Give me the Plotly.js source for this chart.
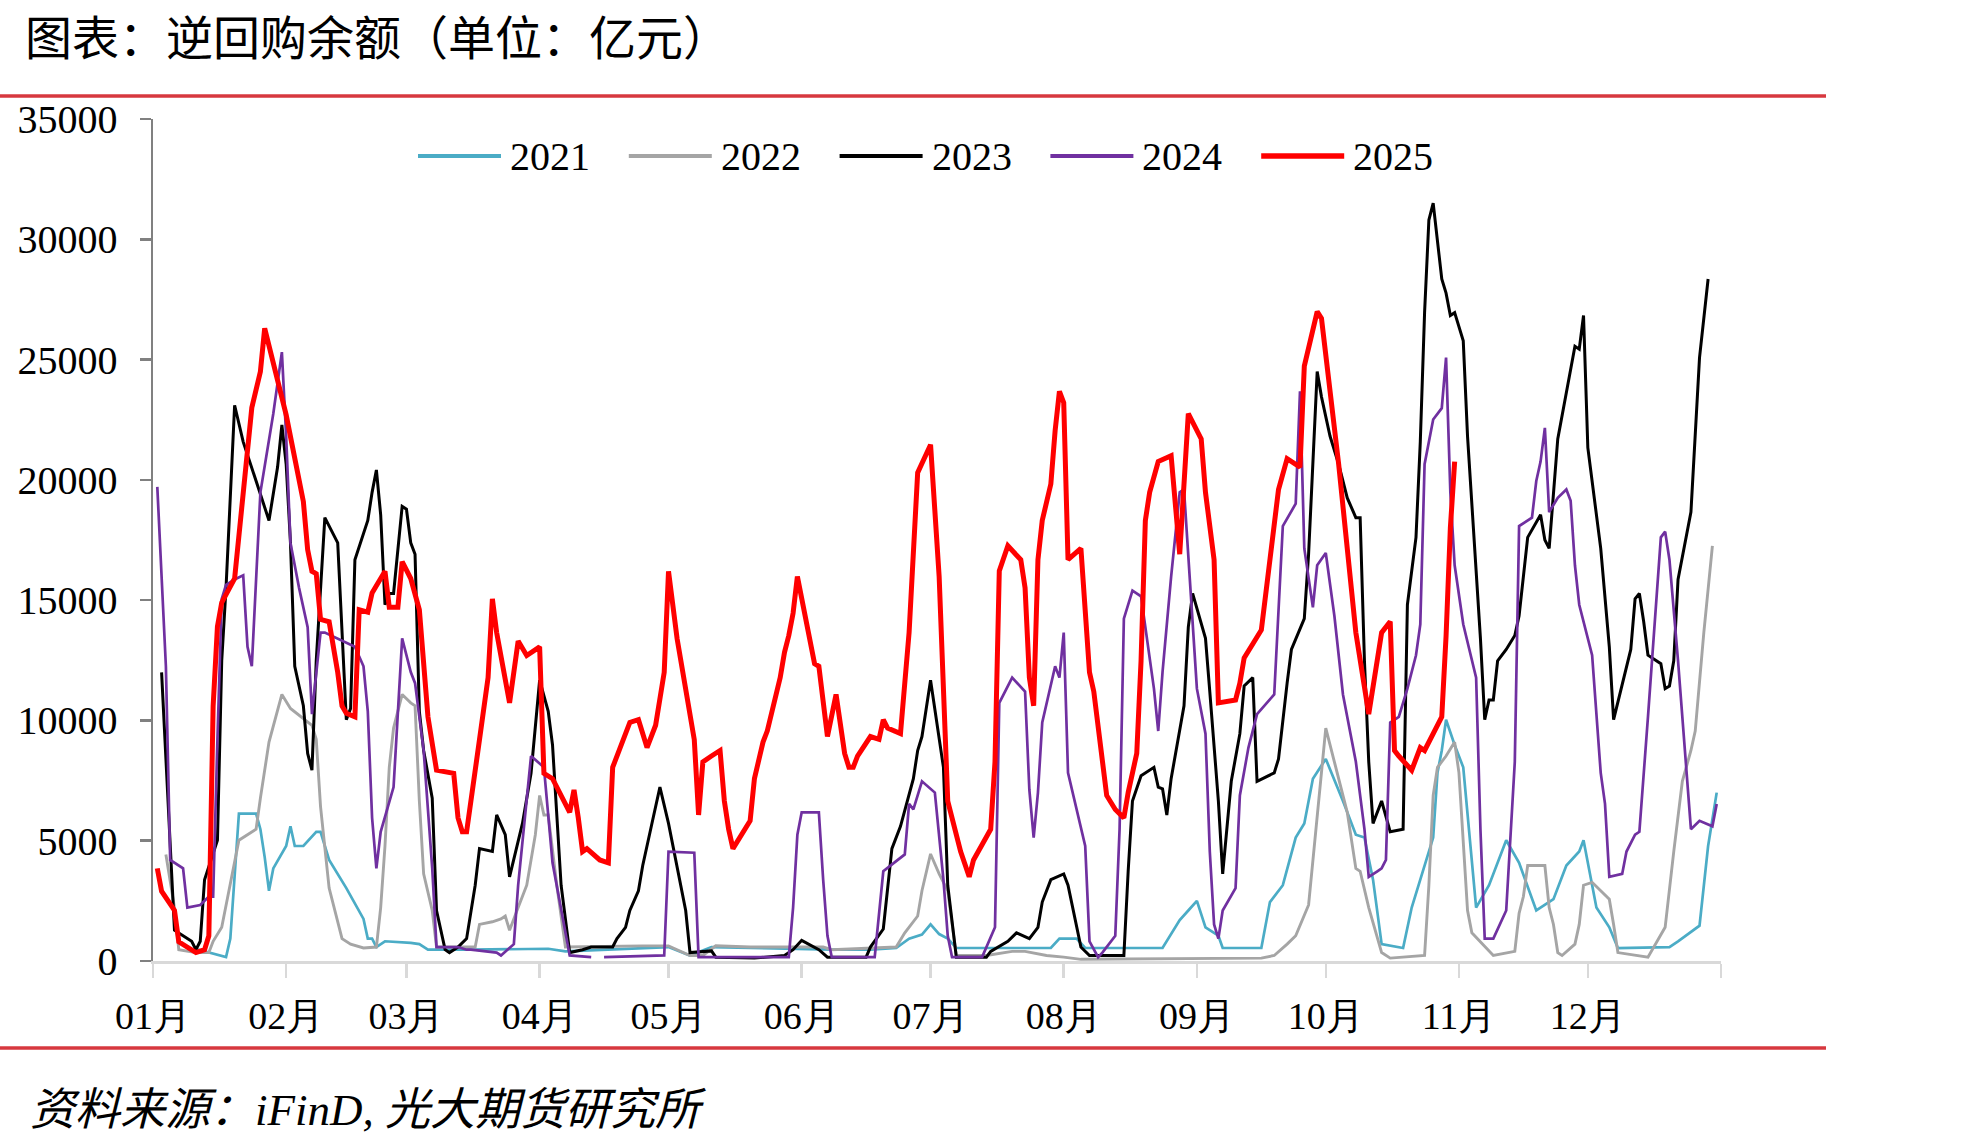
<!DOCTYPE html>
<html>
<head>
<meta charset="utf-8">
<script src="https://cdn.plot.ly/plotly-3.0.1.min.js"></script>
<style>
html,body{margin:0;padding:0;background:#ffffff;}
#chart{width:1985px;height:1146px;}
</style>
</head>
<body>
<div id="chart"></div>
<script>
// ---- Data: [day of year (0 = 1 Jan), balance in 亿元] ----
const s2021 = [[10,500],[14,300],[17,160],[18,930],[20,6130],[24,6130],[25,5480],[26,4320],[27,2920],[28,3850],[31,4780],[32,5600],[33,4780],[35,4780],[38,5370],[39,5370],[41,4200],[45,3030],[49,1750],[50,930],[51,930],[52,580],[54,820],[60,750],[62,700],[64,470],[74,470],[92,510],[96,400],[120,580],[125,230],[130,580],[158,470],[167,470],[173,540],[176,930],[179,1100],[181,1520],[183,1120],[185,930],[187,540],[209,540],[211,930],[215,930],[217,540],[235,540],[239,1700],[241,2100],[243,2500],[245,1400],[248,1050],[249,540],[258,540],[260,2450],[263,3150],[266,5130],[268,5720],[270,7580],[273,8400],[277,6650],[280,5250],[282,5130],[284,3380],[286,700],[291,540],[293,2220],[298,5130],[299,7820],[300,8750],[301,10030],[303,8980],[305,8050],[308,2220],[311,3150],[313,4080],[315,5020],[318,4080],[322,2100],[326,2570],[329,3970],[332,4550],[333,5020],[336,2220],[339,1400],[341,540],[353,580],[355,820],[360,1470],[362,4780],[364,7000]];

const s2022 = [[3,4430],[5,2220],[6,470],[10,350],[13,350],[14,820],[16,1400],[18,3150],[20,5020],[24,5480],[25,6770],[27,9100],[30,11080],[32,10500],[37,9800],[38,9220],[39,6420],[41,3030],[44,930],[46,700],[49,540],[52,580],[53,2220],[54,4780],[55,8050],[56,9680],[58,11080],[60,10730],[61,10610],[62,6650],[63,3620],[65,2100],[66,580],[75,580],[76,1520],[79,1630],[81,1750],[82,1870],[83,1280],[85,2220],[87,3150],[89,5250],[90,6880],[91,6070],[92,6070],[94,3150],[96,580],[114,630],[120,630],[125,230],[128,230],[131,630],[139,580],[156,580],[158,470],[173,580],[175,1170],[178,1870],[179,2920],[181,4450],[183,3620],[185,2920],[186,1520],[187,230],[194,230],[200,400],[203,400],[208,230],[212,160],[216,70],[258,120],[261,230],[264,700],[266,1050],[269,2330],[270,4200],[273,9680],[275,8280],[278,6180],[280,3850],[281,3730],[283,2220],[286,350],[288,120],[296,230],[297,3150],[298,6880],[299,8050],[301,8520],[303,9100],[304,7820],[306,2100],[307,1170],[312,230],[315,350],[317,400],[318,1980],[319,2680],[320,3970],[324,3970],[325,2220],[326,1520],[327,350],[328,230],[331,700],[332,1520],[333,3150],[335,3270],[337,2920],[339,2570],[340,1520],[341,350],[348,160],[352,1400],[354,4550],[356,7470],[358,8750],[359,9560],[361,13650],[363,17260]];

const s2023 = [[2,12000],[5,1280],[7,1050],[9,820],[10,470],[11,820],[12,3380],[14,4430],[15,5020],[16,12480],[17,15510],[19,23100],[21,21580],[24,19950],[27,18310],[29,20530],[30,22280],[31,20650],[32,17380],[33,12250],[35,10610],[36,8630],[37,7930],[38,12480],[40,18430],[43,17380],[45,10030],[46,10500],[47,16680],[50,18310],[51,19480],[52,20410],[53,18550],[54,14810],[55,15280],[56,15280],[58,18900],[59,18780],[60,17380],[61,16910],[62,10380],[63,8750],[65,6770],[66,2100],[68,470],[69,350],[71,580],[73,930],[75,3150],[76,4670],[79,4550],[80,6070],[82,5250],[83,3500],[86,5720],[88,7800],[90,11670],[92,10380],[93,8980],[95,3150],[97,350],[100,470],[102,580],[107,580],[108,930],[110,1400],[111,2100],[113,2920],[114,3970],[116,5600],[118,7230],[120,5720],[121,4780],[124,2100],[125,350],[130,420],[131,160],[140,120],[147,230],[149,470],[151,860],[155,470],[157,160],[166,160],[167,580],[170,1330],[172,4670],[174,5600],[177,7580],[178,8750],[179,9330],[181,11670],[184,8050],[185,3150],[187,160],[194,160],[195,400],[199,820],[201,1170],[204,930],[206,1400],[207,2450],[209,3380],[212,3620],[213,3150],[215,1400],[216,580],[218,230],[226,230],[227,3730],[228,6650],[230,7700],[233,8050],[234,7230],[235,7160],[236,6070],[237,7580],[240,10610],[241,13880],[242,15280],[245,13410],[246,11200],[248,6650],[249,3620],[251,7470],[253,9450],[254,11430],[256,11780],[257,7470],[261,7820],[262,8400],[264,11550],[265,12950],[268,14230],[269,16910],[271,24500],[272,23450],[274,21810],[276,20650],[278,19250],[280,18430],[281,18430],[282,12480],[283,8280],[284,5720],[286,6650],[287,5950],[288,5370],[291,5480],[292,14810],[294,17610],[295,21580],[296,26950],[297,30800],[298,31500],[300,28350],[301,27760],[302,26830],[303,26950],[305,25780],[306,21810],[308,16450],[309,13410],[310,10030],[311,10850],[312,10850],[313,12480],[315,12950],[317,13530],[318,14350],[320,17610],[323,18550],[324,17500],[325,17150],[327,21700],[331,25550],[332,25430],[333,26830],[334,21340],[337,17150],[339,13060],[340,10030],[344,12950],[345,15050],[346,15280],[347,14110],[348,12710],[351,12360],[352,11320],[353,11430],[354,12480],[355,15860],[358,18660],[360,25080],[362,28350]];

const s2024 = [[1,19710],[3,12250],[4,4200],[7,3850],[8,2220],[11,2330],[13,2680],[14,2680],[15,9220],[16,15050],[17,15630],[19,15860],[21,16030],[22,13060],[23,12250],[25,19480],[28,22750],[30,25310],[31,21810],[32,17380],[34,15510],[36,13880],[37,10260],[39,13650],[40,13650],[47,13060],[49,12250],[50,10380],[51,5950],[52,3850],[53,5370],[56,7230],[58,13410],[60,12010],[61,11550],[63,8750],[65,3850],[66,580],[71,580],[73,470],[74,470],[78,400],[80,350],[81,230],[84,700],[85,3150],[87,6650],[88,8520],[91,8050],[93,4080],[97,230],[102,160],[103,null],[105,160],[119,230],[120,4550],[126,4500],[127,160],[148,160],[149,2220],[150,5250],[151,6180],[155,6180],[156,3380],[157,1050],[158,160],[168,160],[170,3730],[175,4430],[176,6530],[177,6300],[179,7470],[182,7000],[184,3380],[185,1050],[186,160],[193,160],[196,1400],[197,10730],[200,11780],[203,11200],[204,7110],[205,5130],[206,7000],[207,9920],[210,12250],[211,11780],[212,13650],[213,7820],[217,4780],[218,820],[220,160],[221,350],[224,1050],[225,5480],[226,14230],[228,15400],[230,15160],[232,12710],[233,11320],[234,9560],[235,12010],[237,15980],[239,19480],[240,19600],[242,14350],[243,11320],[245,9450],[246,4550],[247,1520],[248,930],[249,2100],[252,3030],[253,6880],[255,8870],[257,10260],[261,11080],[263,18080],[266,19010],[267,23680],[268,17150],[270,14700],[271,16450],[273,16960],[275,14350],[277,11080],[280,8280],[282,5480],[283,3500],[285,3730],[286,3850],[287,4200],[288,9910],[290,10150],[292,11320],[294,12710],[295,13990],[296,20650],[298,22510],[300,22980],[301,25080],[302,19480],[303,16450],[305,14000],[308,11780],[309,5480],[310,930],[312,930],[315,2100],[317,8280],[318,18080],[321,18430],[322,19950],[323,20760],[324,22160],[325,18660],[327,19250],[329,19600],[330,19130],[331,16450],[332,14810],[335,12710],[337,7820],[338,6530],[339,3500],[342,3620],[343,4550],[345,5250],[346,5370],[348,10150],[351,17610],[352,17850],[353,16680],[355,12480],[357,7820],[358,5480],[360,5830],[363,5600],[364,6530]];

const s2025 = [[1,3850],[2,2900],[5,2100],[6,800],[10,350],[12,470],[13,1050],[14,10600],[15,13900],[16,14900],[19,15900],[21,19500],[23,23000],[25,24500],[26,26300],[31,22700],[33,20900],[35,19100],[36,17100],[37,16200],[38,16100],[39,14200],[41,14100],[43,12000],[44,10600],[45,10300],[47,10150],[48,14600],[50,14500],[51,15300],[54,16200],[55,14700],[57,14700],[58,16600],[60,15900],[62,14600],[64,10150],[66,7930],[70,7800],[71,5950],[72,5370],[73,5370],[76,9200],[78,11780],[79,15050],[80,13650],[83,10730],[85,13300],[87,12700],[90,13060],[91,7800],[93,7580],[97,6180],[98,7110],[99,5950],[100,4550],[101,4670],[104,4200],[106,4080],[107,8050],[111,9915],[113,10030],[115,8870],[117,9800],[119,12000],[120,16200],[122,13400],[125,10150],[126,9200],[127,6070],[128,8280],[130,8520],[132,8750],[133,6650],[134,5480],[135,4670],[139,5830],[140,7580],[142,9100],[143,9570],[146,11780],[147,12830],[148,13530],[149,14460],[150,15980],[154,12360],[155,12250],[157,9330],[159,11080],[161,8630],[162,8050],[163,8050],[164,8520],[167,9330],[169,9215],[170,10030],[171,9680],[174,9450],[176,13650],[178,20300],[181,21460],[183,15980],[185,6650],[188,4550],[190,3500],[191,4200],[195,5480],[196,8280],[197,16210],[199,17260],[202,16680],[203,15510],[204,11780],[205,10610],[206,16680],[207,18310],[209,19830],[210,22050],[211,23680],[212,23210],[213,16680],[216,17150],[217,14230],[218,12000],[219,11200],[222,6880],[224,6300],[226,5950],[227,7000],[229,8630],[230,12480],[231,18310],[232,19480],[234,20760],[237,21000],[238,18780],[239,16910],[241,22750],[244,21700],[245,19480],[247,16680],[248,10730],[252,10850],[253,11550],[254,12600],[258,13760],[259,15280],[261,18080],[262,19600],[264,20880],[267,20530],[268,24730],[270,26130],[271,26990],[272,26710],[274,23680],[276,20650],[278,17150],[280,13650],[283,10260],[284,11320],[285,12600],[286,13650],[288,14110],[289,8750],[290,8520],[293,7930],[295,8870],[296,8750],[300,10150],[301,13500],[302,18000],[303,20760]];

const seriesNames = ['2021','2022','2023','2024','2025'];
const seriesData = [s2021, s2022, s2023, s2024, s2025];
const seriesColors = ['#4BACC6','#A5A5A5','#000000','#7030A0','#FF0000'];
const seriesWidths = [2.7, 2.9, 3, 2.7, 5];

const monthTickDays = [0,31,59,90,120,151,181,212,243,273,304,334,365];
const monthTickText = ['01月','02月','03月','04月','05月','06月','07月','08月','09月','10月','11月','12月',''];

const titleText = '图表：逆回购余额（单位：亿元）';
const sourceText = '资料来源：iFinD, 光大期货研究所';

// ---- helpers ----
const BASE = Date.UTC(2021, 0, 1);
function dayToDate(d) {
  return new Date(BASE + d * 86400000).toISOString().slice(0, 10);
}

// Plot area in page pixels
const W = 1985, H = 1146;
const L = 153, R = 1721, T = 119, B = 961;
const px2x = p => (p - L) / (R - L);
const px2y = p => (B - p) / (B - T);

const serif = 'Liberation Serif, Times New Roman, serif';

const traces = seriesData.map((s, i) => ({
  type: 'scatter',
  mode: 'lines',
  name: seriesNames[i],
  x: s.map(p => dayToDate(p[0])),
  y: s.map(p => p[1]),
  line: {color: seriesColors[i], width: seriesWidths[i]},
  connectgaps: false,
  showlegend: false,
  hoverinfo: 'x+y+name'
}));

// custom legend (long line samples like the reference)
const shapes = [];
const annotations = [];
const legendStart = 418, legendStep = 210.8, legendLine = 83, legendY = 156, legendTextGap = 90;
seriesNames.forEach((n, i) => {
  const x0 = legendStart + i * legendStep;
  shapes.push({
    type: 'line', xref: 'paper', yref: 'paper',
    x0: px2x(x0), x1: px2x(x0 + legendLine), y0: px2y(legendY), y1: px2y(legendY),
    line: {color: seriesColors[i], width: i === 4 ? 5.5 : 4}
  });
  annotations.push({
    xref: 'paper', yref: 'paper', x: px2x(x0 + legendTextGap), y: px2y(legendY),
    xanchor: 'left', yanchor: 'middle', showarrow: false, text: n,
    font: {family: serif, size: 40, color: '#000000'}
  });
});

// red separator rules
[96, 1048].forEach(py => {
  shapes.push({
    type: 'line', xref: 'paper', yref: 'paper',
    x0: px2x(0), x1: px2x(1826), y0: px2y(py), y1: px2y(py),
    line: {color: '#D7383F', width: 3.5}
  });
});

// source note
annotations.push({
  xref: 'paper', yref: 'paper', x: px2x(28), y: px2y(1110),
  xanchor: 'left', yanchor: 'middle', showarrow: false, text: sourceText,
  font: {family: 'Liberation Serif, Noto Sans CJK SC, serif', size: 45, color: '#000000', style: 'italic'}
});

const layout = {
  width: W, height: H,
  margin: {l: L, r: W - R, t: T, b: H - B, pad: 0},
  paper_bgcolor: '#ffffff',
  plot_bgcolor: '#ffffff',
  showlegend: false,
  title: {
    text: titleText,
    x: 25 / W, xanchor: 'left', xref: 'container',
    y: 1 - 39 / H, yanchor: 'middle', yref: 'container',
    font: {family: 'Noto Sans CJK SC, sans-serif', size: 47, color: '#000000'}
  },
  xaxis: {
    type: 'date',
    range: [dayToDate(0), dayToDate(365)],
    tickmode: 'array',
    tickvals: monthTickDays.map(dayToDate),
    ticktext: monthTickText,
    showgrid: false, zeroline: false,
    showline: true, linecolor: '#D9D9D9', linewidth: 3,
    ticks: 'outside', ticklen: 14, tickwidth: 2.5, tickcolor: '#D9D9D9',
    ticklabelstandoff: 5,
    tickfont: {family: serif, size: 38, color: '#000000'},
    fixedrange: true
  },
  yaxis: {
    range: [0, 35000],
    tickmode: 'linear', tick0: 0, dtick: 5000,
    showgrid: false, zeroline: false,
    showline: true, linecolor: '#808080', linewidth: 2.5,
    ticks: 'outside', ticklen: 11, tickwidth: 2.5, tickcolor: '#808080',
    ticklabelstandoff: 14,
    tickfont: {family: serif, size: 40, color: '#000000'},
    tickformat: 'd',
    fixedrange: true
  },
  shapes: shapes,
  annotations: annotations
};

Plotly.newPlot('chart', traces, layout, {displayModeBar: false, staticPlot: true});
</script>
</body>
</html>
